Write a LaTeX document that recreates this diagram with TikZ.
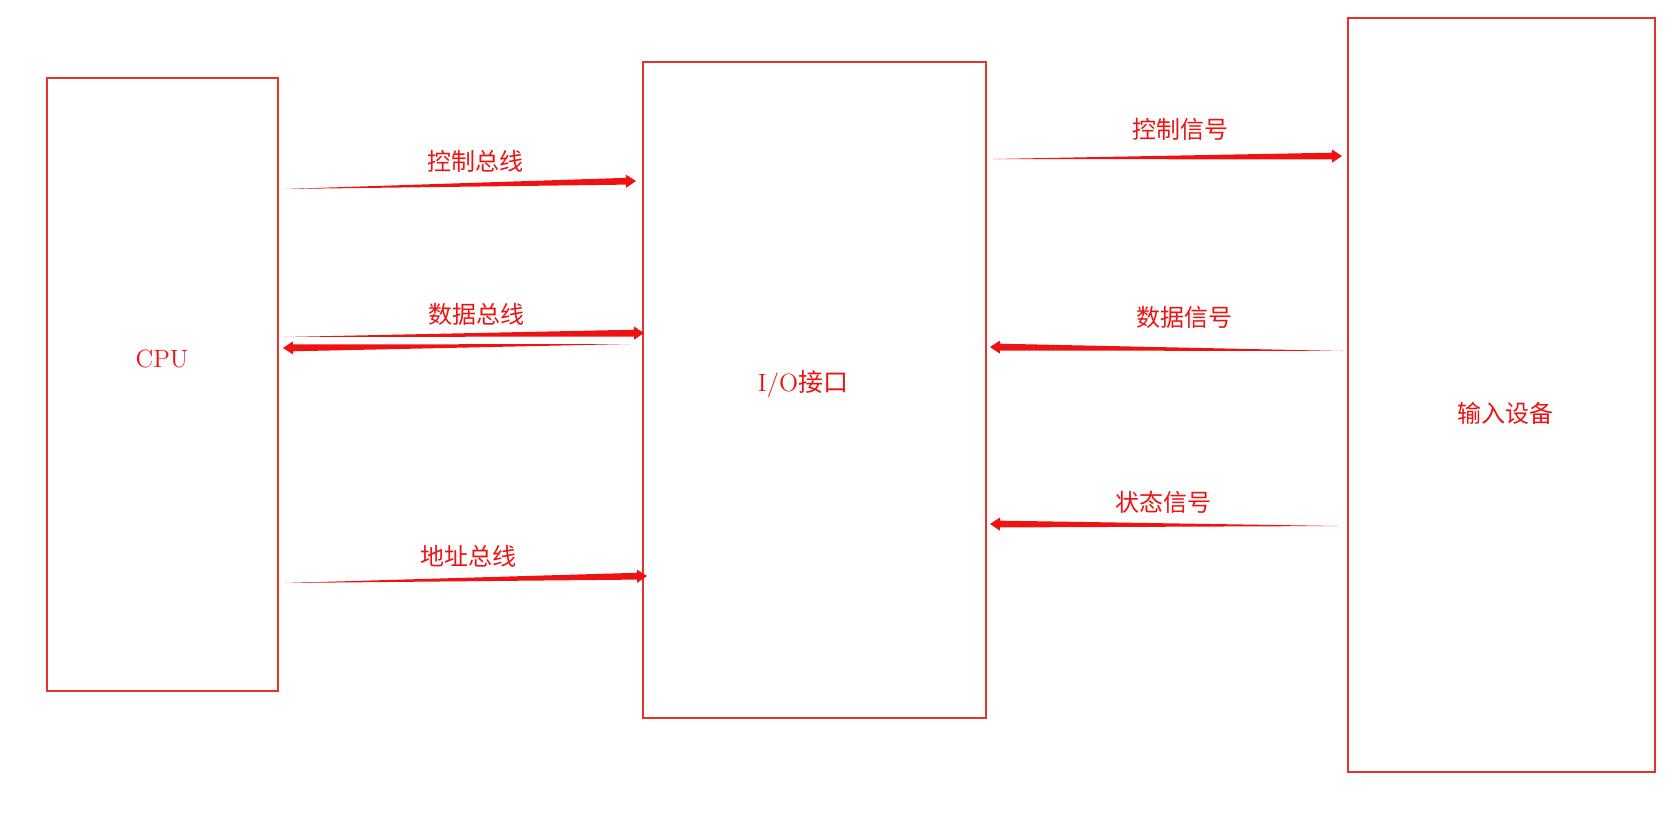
\documentclass[tikz,border=0pt]{standalone}
\usepackage{fontspec}
\newfontfamily\cjk{Noto Sans CJK SC}
\usetikzlibrary{calc,positioning}
\definecolor{boxred}{RGB}{226,52,44}
\definecolor{sigred}{RGB}{238,18,18}
% tapered arrow between two named points
\newcommand{\taperarrow}[2]{%
  \coordinate (neck) at ($(#2)!5pt!(#1)$);
  \fill[sigred] (#1) -- ($(neck)!1.7pt!90:(#1)$) -- ($(neck)!3.3pt!90:(#1)$) -- (#2)
    -- ($(neck)!3.3pt!-90:(#1)$) -- ($(neck)!1.7pt!-90:(#1)$) -- cycle;}

\begin{document}
\begin{tikzpicture}[x=0.5pt, y=-0.5pt,
    unit/.style={rectangle, draw=boxred, line width=1pt, inner sep=0pt},
    txt/.style={text=sigred, font=\fontsize{12}{14}\selectfont\cjk},
    title/.style={text=sigred, font=\fontsize{12.5}{15}\selectfont}
]
\useasboundingbox (0,0) rectangle (1674,813);

% Boxes
\node[unit, minimum width=115.5pt, minimum height=306.5pt] (cpu) at (162.5,384.5) {};
\node[unit, minimum width=171.5pt, minimum height=328pt] (io) at (814.5,390) {};
\node[unit, minimum width=153.5pt, minimum height=377pt] (dev) at (1501.5,395) {};

\node[title] (cpu-name) at (162,359) {CPU};
\node[title] (io-name) at (803,384) {I/O{\cjk 接口}};
\node[txt] (dev-name) at (1505,413) {输入设备};

% Bus ends (CPU side / interface side)
\coordinate (cb-s) at (284,189);  \coordinate (cb-e) at (636,181);
\coordinate (db-s) at (284,337);  \coordinate (db-e) at (644,333);
\coordinate (dr-s) at (630,344);  \coordinate (dr-e) at (283,348);
\coordinate (ab-s) at (284,583);  \coordinate (ab-e) at (647,576);

% Signal ends (interface side / device side)
\coordinate (cs-s) at (993,159);  \coordinate (cs-e) at (1342,156);
\coordinate (ds-s) at (1343,351); \coordinate (ds-e) at (990,347);
\coordinate (ss-s) at (1338,526); \coordinate (ss-e) at (990,524);

% Arrows
\taperarrow{cb-s}{cb-e}
\taperarrow{db-s}{db-e}
\taperarrow{dr-s}{dr-e}
\taperarrow{ab-s}{ab-e}
\taperarrow{cs-s}{cs-e}
\taperarrow{ds-s}{ds-e}
\taperarrow{ss-s}{ss-e}

% Labels
\node[txt] (cb-lbl) at (475,161) {控制总线};
\node[txt] (db-lbl) at (476,314) {数据总线};
\node[txt] (ab-lbl) at (468,556) {地址总线};
\node[txt] (cs-lbl) at (1180,129) {控制信号};
\node[txt] (ds-lbl) at (1184,317) {数据信号};
\node[txt] (ss-lbl) at (1163,502) {状态信号};

\end{tikzpicture}
\end{document}
